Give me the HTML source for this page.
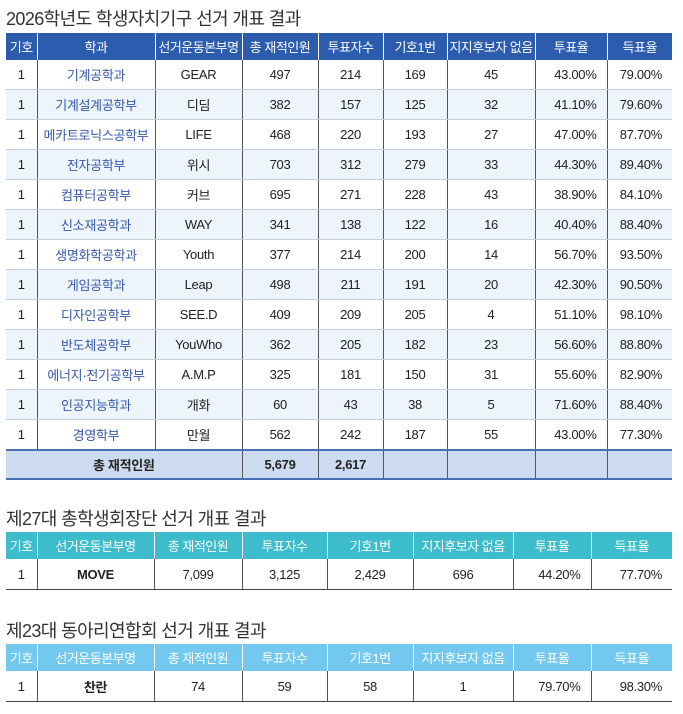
<!DOCTYPE html>
<html><head><meta charset="utf-8"><style>
body{margin:0;width:683px;height:714px;background:#fff;font-family:"Liberation Sans","Noto Sans CJK KR",sans-serif;color:#222;position:relative;overflow:hidden}
h2{position:absolute;left:6px;margin:0;font-size:18px;font-weight:normal;color:#333;letter-spacing:-0.6px}
table{position:absolute;left:6px;border-collapse:collapse;table-layout:fixed;font-size:13px;letter-spacing:-0.3px}
td,th{text-align:center;padding:0;white-space:nowrap;overflow:hidden}
th{color:#fff;font-weight:normal;height:27px;border-left:1px solid rgba(255,255,255,.6);letter-spacing:-0.5px}
th:first-child{border-left:none}
td{border-left:1px solid #555;height:29px}
td:first-child{border-left:none}
.t1 tr.r td{border-bottom:1px solid #c8cdd6}
.t1 tr.r:nth-child(odd) td{background:#eef4fc}
.t1 th{background:#2c5cae}
.d{color:#3559a8}
.pr{text-align:right;padding-right:10px}
.tot td{background:#cddbf0;font-weight:bold;border-top:2px solid #4a6fb5;border-bottom:2px solid #4a6fb5;height:27px}
.t2 th{background:#3dbccb}
.t3 th{background:#72c8ef}
.t2 td,.t3 td{border-bottom:1px solid #444;height:30px}
</style></head><body>
<h2 style="top:5px">2026학년도 학생자치기구 선거 개표 결과</h2>
<table class="t1" style="top:33px;width:666px">
<colgroup><col style="width:31px"><col style="width:118px"><col style="width:87px"><col style="width:76px"><col style="width:65px"><col style="width:64px"><col style="width:88px"><col style="width:72px"><col style="width:65px"></colgroup>
<tr><th>기호</th><th>학과</th><th>선거운동본부명</th><th>총 재적인원</th><th>투표자수</th><th>기호1번</th><th>지지후보자 없음</th><th>투표율</th><th>득표율</th></tr>
<tr class="r"><td>1</td><td class="d">기계공학과</td><td>GEAR</td><td>497</td><td>214</td><td>169</td><td>45</td><td class="pr">43.00%</td><td class="pr">79.00%</td></tr>
<tr class="r"><td>1</td><td class="d">기계설계공학부</td><td>디딤</td><td>382</td><td>157</td><td>125</td><td>32</td><td class="pr">41.10%</td><td class="pr">79.60%</td></tr>
<tr class="r"><td>1</td><td class="d">메카트로닉스공학부</td><td>LIFE</td><td>468</td><td>220</td><td>193</td><td>27</td><td class="pr">47.00%</td><td class="pr">87.70%</td></tr>
<tr class="r"><td>1</td><td class="d">전자공학부</td><td>위시</td><td>703</td><td>312</td><td>279</td><td>33</td><td class="pr">44.30%</td><td class="pr">89.40%</td></tr>
<tr class="r"><td>1</td><td class="d">컴퓨터공학부</td><td>커브</td><td>695</td><td>271</td><td>228</td><td>43</td><td class="pr">38.90%</td><td class="pr">84.10%</td></tr>
<tr class="r"><td>1</td><td class="d">신소재공학과</td><td>WAY</td><td>341</td><td>138</td><td>122</td><td>16</td><td class="pr">40.40%</td><td class="pr">88.40%</td></tr>
<tr class="r"><td>1</td><td class="d">생명화학공학과</td><td>Youth</td><td>377</td><td>214</td><td>200</td><td>14</td><td class="pr">56.70%</td><td class="pr">93.50%</td></tr>
<tr class="r"><td>1</td><td class="d">게임공학과</td><td>Leap</td><td>498</td><td>211</td><td>191</td><td>20</td><td class="pr">42.30%</td><td class="pr">90.50%</td></tr>
<tr class="r"><td>1</td><td class="d">디자인공학부</td><td>SEE.D</td><td>409</td><td>209</td><td>205</td><td>4</td><td class="pr">51.10%</td><td class="pr">98.10%</td></tr>
<tr class="r"><td>1</td><td class="d">반도체공학부</td><td>YouWho</td><td>362</td><td>205</td><td>182</td><td>23</td><td class="pr">56.60%</td><td class="pr">88.80%</td></tr>
<tr class="r"><td>1</td><td class="d">에너지·전기공학부</td><td>A.M.P</td><td>325</td><td>181</td><td>150</td><td>31</td><td class="pr">55.60%</td><td class="pr">82.90%</td></tr>
<tr class="r"><td>1</td><td class="d">인공지능학과</td><td>개화</td><td>60</td><td>43</td><td>38</td><td>5</td><td class="pr">71.60%</td><td class="pr">88.40%</td></tr>
<tr class="r"><td>1</td><td class="d">경영학부</td><td>만월</td><td>562</td><td>242</td><td>187</td><td>55</td><td class="pr">43.00%</td><td class="pr">77.30%</td></tr>
<tr class="tot"><td colspan="3">총 재적인원</td><td>5,679</td><td>2,617</td><td></td><td></td><td></td><td></td></tr>
</table>

<h2 style="top:505px">제27대 총학생회장단 선거 개표 결과</h2>
<table class="t2" style="top:532px;width:666px">
<colgroup><col style="width:31px"><col style="width:117px"><col style="width:88px"><col style="width:85px"><col style="width:86px"><col style="width:100px"><col style="width:78px"><col style="width:81px"></colgroup>
<tr><th>기호</th><th>선거운동본부명</th><th>총 재적인원</th><th>투표자수</th><th>기호1번</th><th>지지후보자 없음</th><th>투표율</th><th>득표율</th></tr>
<tr><td>1</td><td style="font-weight:bold">MOVE</td><td>7,099</td><td>3,125</td><td>2,429</td><td>696</td><td class="pr">44.20%</td><td class="pr">77.70%</td></tr>
</table>

<h2 style="top:617px">제23대 동아리연합회 선거 개표 결과</h2>
<table class="t3" style="top:644px;width:666px">
<colgroup><col style="width:31px"><col style="width:117px"><col style="width:88px"><col style="width:85px"><col style="width:86px"><col style="width:100px"><col style="width:78px"><col style="width:81px"></colgroup>
<tr><th>기호</th><th>선거운동본부명</th><th>총 재적인원</th><th>투표자수</th><th>기호1번</th><th>지지후보자 없음</th><th>투표율</th><th>득표율</th></tr>
<tr><td>1</td><td style="font-weight:bold">찬란</td><td>74</td><td>59</td><td>58</td><td>1</td><td class="pr">79.70%</td><td class="pr">98.30%</td></tr>
</table>
</body></html>
